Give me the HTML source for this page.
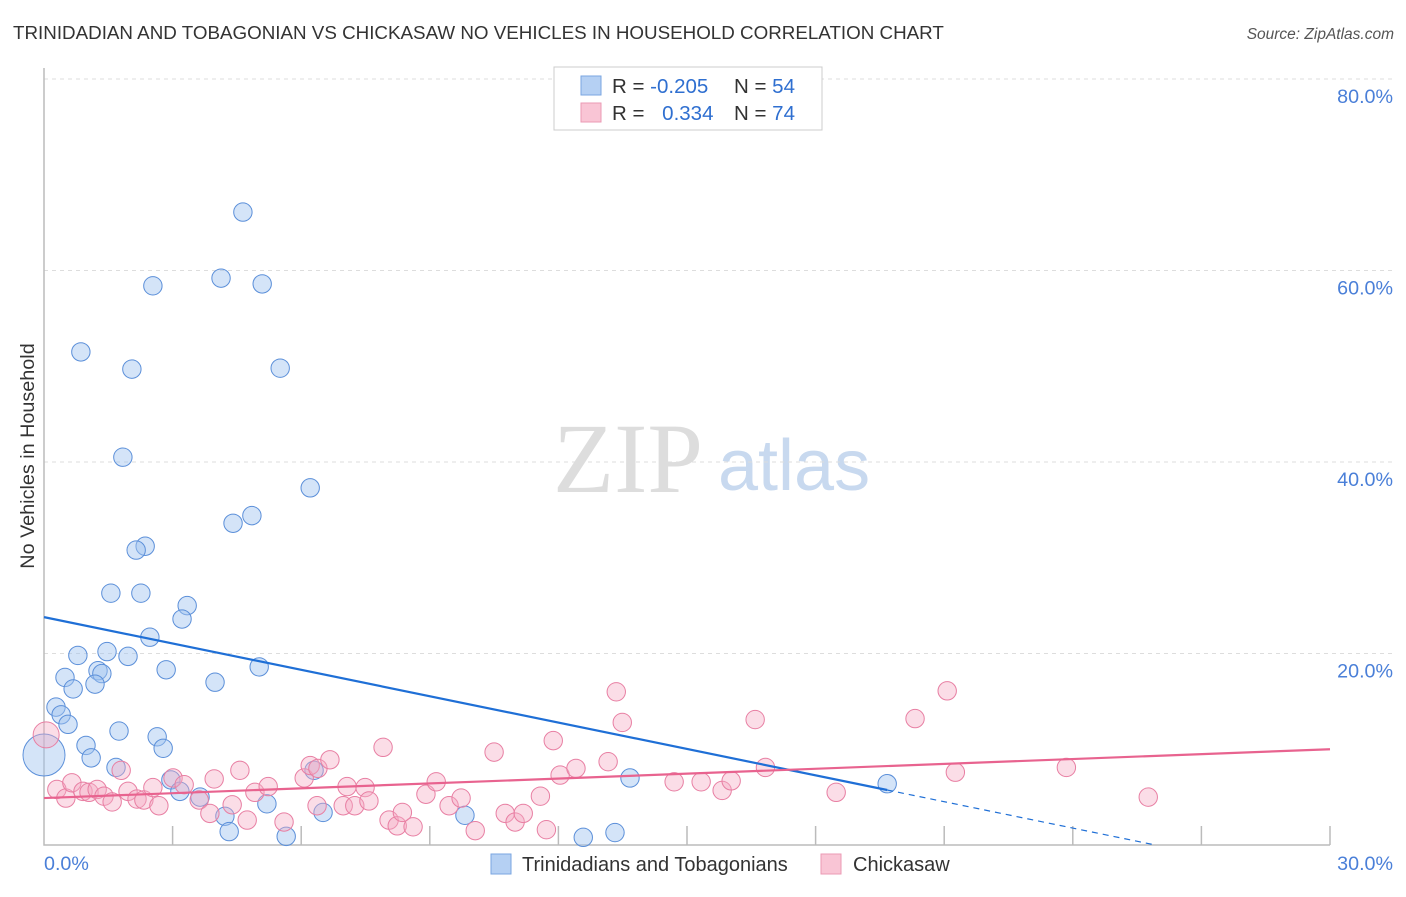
<!DOCTYPE html>
<html><head><meta charset="utf-8"><style>
body{margin:0;background:#fff;font-family:"Liberation Sans",sans-serif;}
</style></head><body>
<svg id="chart" width="1406" height="892" xmlns="http://www.w3.org/2000/svg" font-family="Liberation Sans, sans-serif">
<text x="13" y="39" font-size="18.8" fill="#333">TRINIDADIAN AND TOBAGONIAN VS CHICKASAW NO VEHICLES IN HOUSEHOLD CORRELATION CHART</text>
<text x="1394" y="39" font-size="15.5" fill="#555" text-anchor="end" font-style="italic">Source: ZipAtlas.com</text>
<g>
<text x="553" y="492" font-size="100" style="font-family:'Liberation Serif',serif" fill="#ddd">ZIP</text>
<text x="718" y="490" font-size="72" fill="#c8d9ef">atlas</text>
</g>
<g id="grid"></g>
<g id="axes"></g>
<g id="marks"></g>
<g>
<rect x="554" y="67" width="268" height="63" fill="#fff" stroke="#ccc"/>
<rect x="581" y="76" width="20" height="19" fill="#b5d0f3" stroke="#7aa6e0"/>
<rect x="581" y="103" width="20" height="19" fill="#f9c5d5" stroke="#eb9ab4"/>
<text x="612" y="93" font-size="20.5" fill="#333">R = <tspan fill="#2f6fd0">-0.205</tspan></text>
<text x="734" y="93" font-size="20.5" fill="#333">N = <tspan fill="#2f6fd0">54</tspan></text>
<text x="612" y="120" font-size="20.5" fill="#333">R = <tspan fill="#2f6fd0" dx="12">0.334</tspan></text>
<text x="734" y="120" font-size="20.5" fill="#333">N = <tspan fill="#2f6fd0">74</tspan></text>
</g>
<g>
<rect x="491" y="854" width="20" height="20" fill="#b5d0f3" stroke="#7aa6e0"/>
<text x="522" y="871" font-size="20" fill="#333">Trinidadians and Tobagonians</text>
<rect x="821" y="854" width="20" height="20" fill="#f9c5d5" stroke="#eb9ab4"/>
<text x="853" y="871" font-size="20" fill="#333">Chickasaw</text>
</g>
<text transform="translate(34,456) rotate(-90)" font-size="19.8" fill="#333" text-anchor="middle">No Vehicles in Household</text>
</svg>
<script>
const blueX=[4.64,4.13,2.54,5.09,0.86,2.05,5.51,1.84,6.21,4.85,4.41,2.36,2.15,1.56,2.26,3.34,3.22,2.47,0.79,1.47,1.96,1.26,1.35,2.85,0.49,1.19,0.68,3.99,5.02,0.28,0.40,0.56,1.75,2.64,0.14,0.98,2.78,1.10,1.68,6.30,2.96,13.67,3.17,3.64,5.20,6.51,4.22,9.82,4.32,5.65,12.58,13.32,19.67];
const blueY=[66.1,59.2,58.4,58.6,51.5,49.7,49.8,40.5,37.3,34.4,33.6,31.2,30.8,26.3,26.3,25.0,23.6,21.7,19.8,20.2,19.7,18.2,17.9,18.3,17.5,16.8,16.3,17.0,18.6,14.4,13.6,12.6,11.9,11.3,9.4,10.4,10.1,9.1,8.1,7.8,6.8,7.0,5.6,5.0,4.3,3.4,3.0,3.1,1.4,0.9,0.8,1.3,6.4];
const pinkX=[0.14,0.30,0.51,0.65,0.91,1.05,1.24,1.40,1.59,1.80,1.96,2.17,2.33,2.54,2.68,3.01,3.27,3.62,3.87,3.97,4.39,4.57,4.74,4.92,5.23,5.60,6.07,6.21,6.39,6.67,6.37,6.98,7.07,7.25,7.49,7.58,7.91,8.05,8.24,8.36,8.61,8.91,9.15,9.45,9.73,10.06,10.50,10.76,10.99,11.18,11.58,11.88,11.72,12.04,12.41,13.16,13.35,13.49,14.70,15.33,15.82,16.03,16.59,16.83,18.48,20.32,21.07,21.26,23.85,25.76];
const pinkY=[11.5,5.8,4.9,6.5,5.6,5.5,5.8,5.1,4.5,7.8,5.6,4.8,4.7,6.0,4.1,7.0,6.3,4.7,3.3,6.9,4.2,7.8,2.6,5.5,6.1,2.4,7.0,8.3,8.0,8.9,4.1,4.1,6.1,4.1,6.0,4.6,10.2,2.6,2.0,3.4,1.9,5.3,6.6,4.1,4.9,1.5,9.7,3.3,2.4,3.3,5.1,10.9,1.6,7.3,8.0,8.7,16.0,12.8,6.6,6.6,5.7,6.7,13.1,8.1,5.5,13.2,16.1,7.6,8.1,5.0];
const blueTrend=[23.8,-0.918];
const pinkTrend=[4.9,0.17];
const yTicks=[20,40,60,80];
const yTickLabels=["20.0%","40.0%","60.0%","80.0%"];
const xTicks=[0,3,6,9,12,15,18,21,24,27,30];

const X0=44,X1=1330,Y0=845,Y1=79;
const xs=v=>X0+(v/30)*(X1-X0);
const ys=v=>Y0-(v/80)*(Y0-Y1);
const NS="http://www.w3.org/2000/svg";
function mk(parent,tag,attrs){const e=document.createElementNS(NS,tag);for(const k in attrs)e.setAttribute(k,attrs[k]);document.getElementById(parent).appendChild(e);return e;}

yTicks.forEach((t,i)=>{
  const g=mk('grid','line',{x1:X0,x2:1392,y1:ys(t),y2:ys(t),stroke:'#ddd','stroke-dasharray':'4,4'});
  
  
  const l=mk('axes','text',{x:1393,y:ys(t)+24,'font-size':19.7,fill:'#4a7fd8','text-anchor':'end'});
  l.textContent=yTickLabels[i];
  
  
});
const al=mk('axes','path',{d:`M${X0},68 V${Y0} H${X1}`,fill:'none',stroke:'#bbb','stroke-width':1.5});


xTicks.forEach(t=>{
  if(t===0)return;
  const tk=mk('axes','line',{x1:xs(t),x2:xs(t),y1:Y0-19,y2:Y0,stroke:'#bbb','stroke-width':1.5});
  
  
});
const xl0=mk('axes','text',{x:44,y:870,'font-size':19.7,fill:'#4a7fd8'});xl0.textContent='0.0%';


const xl1=mk('axes','text',{x:1393,y:870,'font-size':19.7,fill:'#4a7fd8','text-anchor':'end'});xl1.textContent='30.0%';



blueX.forEach((x,i)=>{
  const big=(x<0.2);
  const c=mk('marks','circle',{cx:big?xs(0):xs(x),cy:ys(blueY[i]),r:big?21:9.2,fill:'rgba(160,196,240,0.45)',stroke:'#5b8fd9','stroke-width':1});
  
  
});
pinkX.forEach((x,i)=>{
  const big=(x<0.2);
  const c=mk('marks','circle',{cx:big?xs(0.05):xs(x),cy:ys(pinkY[i]),r:big?13:9.2,fill:'rgba(245,170,195,0.4)',stroke:'#e87fa3','stroke-width':1});
  
  
});
const bEnd=Math.max(...blueX);
const bZero=-blueTrend[0]/blueTrend[1];
const bl=mk('marks','line',{x1:xs(0),y1:ys(blueTrend[0]),x2:xs(bEnd),y2:ys(blueTrend[0]+blueTrend[1]*bEnd),stroke:'#1f6fd6','stroke-width':2.2});


const bd=mk('marks','line',{x1:xs(bEnd),y1:ys(blueTrend[0]+blueTrend[1]*bEnd),x2:xs(bZero),y2:ys(0),stroke:'#1f6fd6','stroke-width':1.2,'stroke-dasharray':'6,5'});


const pl=mk('marks','line',{x1:xs(0),y1:ys(pinkTrend[0]),x2:xs(30),y2:ys(pinkTrend[0]+pinkTrend[1]*30),stroke:'#e8638f','stroke-width':2.2});


</script>
</body></html>
